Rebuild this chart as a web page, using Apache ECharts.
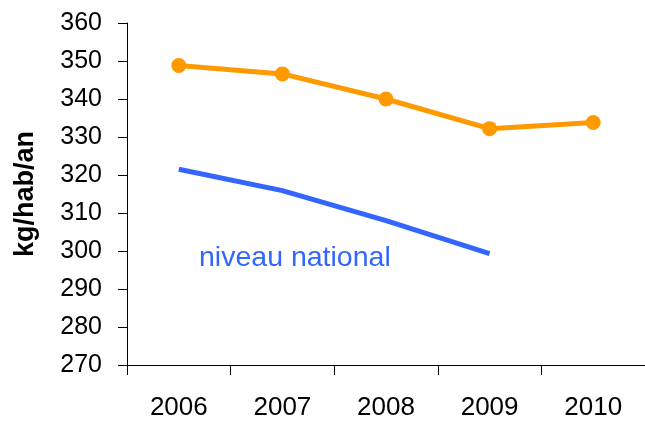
<!DOCTYPE html>
<html>
<head>
<meta charset="utf-8">
<script src="https://cdn.jsdelivr.net/npm/echarts@6/dist/echarts.min.js"></script>
<style>
  html, body { margin: 0; padding: 0; background: #fff; }
  #main { width: 645px; height: 421px; }
</style>
</head>
<body>
<div id="main"></div>
<script>
var annees = ['2006', '2007', '2008', '2009', '2010'];
var local = [348.8, 346.6, 340.0, 332.2, 333.8];
var national = [321.5, 315.9, 308.0, 299.3, null];
var yTicks = [270, 280, 290, 300, 310, 320, 330, 340, 350, 360];

var chart = echarts.init(document.getElementById('main'));
var police = 'Liberation Sans, Arial, sans-serif';

var option = {
    backgroundColor: '#fff',
    animation: false,
    grid: {left: 127, top: 23, width: 520, bottom: 54},
    xAxis: {
        type: 'category',
        data: annees,
        boundaryGap: true,
        axisLine: {lineStyle: {color: '#000', width: 1}},
        axisTick: {show: true, length: 10, lineStyle: {color: '#000'}},
        axisLabel: {color: '#000', fontSize: 26, fontFamily: police, margin: 30}
    },
    yAxis: {
        type: 'value',
        min: yTicks[0],
        max: yTicks[yTicks.length - 1],
        interval: 10,
        name: 'kg/hab/an',
        nameLocation: 'middle',
        nameGap: 88,
        nameRotate: 90,
        nameTextStyle: {color: '#000', fontSize: 27, fontWeight: 'bold', fontFamily: police},
        axisLine: {show: true, lineStyle: {color: '#000', width: 1}},
        axisTick: {show: true, length: 9, lineStyle: {color: '#000'}},
        axisLabel: {color: '#000', fontSize: 25, fontFamily: police, margin: 25},
        splitLine: {show: false}
    },
    series: [
        {
            name: 'local',
            type: 'line',
            data: local,
            symbol: 'circle',
            symbolSize: 15,
            lineStyle: {color: '#FF9900', width: 5},
            itemStyle: {color: '#FF9900'}
        },
        {
            name: 'niveau national',
            type: 'line',
            data: national,
            symbol: 'none',
            lineStyle: {color: '#3366FF', width: 5},
            itemStyle: {color: '#3366FF'}
        }
    ],
    graphic: [
        {
            type: 'text',
            left: 199,
            top: 244,
            style: {text: 'niveau national', fill: '#3366FF', fontSize: 28.5, fontFamily: police}
        }
    ]
};
chart.setOption(option);
</script>
</body>
</html>
